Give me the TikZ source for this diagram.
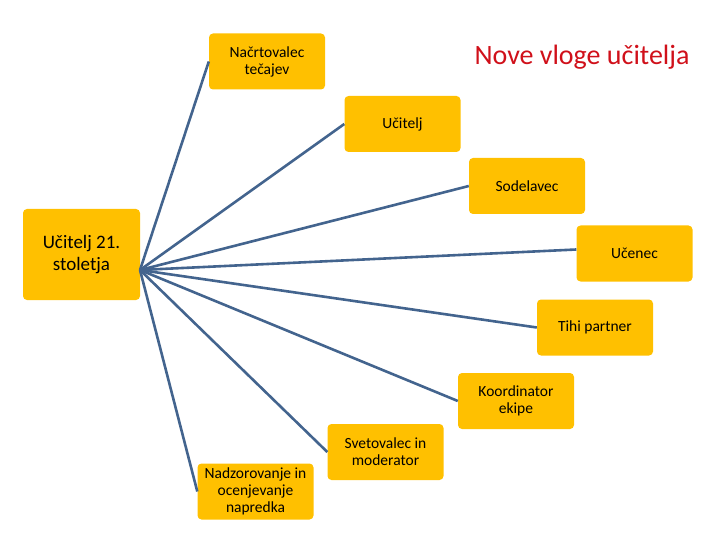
\documentclass[tikz,border=0pt]{standalone}
\usepackage{fontspec}
\setmainfont{Carlito}
\definecolor{boxyellow}{HTML}{FFC000}
\definecolor{linkblue}{HTML}{43648E}
\definecolor{titlered}{HTML}{D0101A}

\begin{document}
\begin{tikzpicture}[x=1pt,y=-1pt,
  role/.style={fill=boxyellow, rounded corners=4pt, minimum width=116pt, minimum height=56pt, align=center, font=\fontsize{15.5}{17}\selectfont, inner sep=2pt},
  link/.style={draw=linkblue, line width=2.6pt}]
\useasboundingbox (0,0) rectangle (720,540);
\node[role, minimum width=117pt, minimum height=91pt, font=\fontsize{19}{22}\selectfont] (hub) at (81.5,254.5) {Učitelj 21.\\stoletja};
\coordinate (c) at (140,270);
\node[anchor=east, text=titlered, font=\fontsize{28}{30}\selectfont] (title) at (693,57) {Nove vloge učitelja};
\node[role] (nacrt) at (267,61.5) {Načrtovalec\\tečajev};
\node[role] (ucitelj) at (402.5,124) {Učitelj};
\node[role] (sodel) at (527,186) {Sodelavec};
\node[role] (ucenec) at (634.5,253.5) {Učenec};
\node[role] (tihi) at (595,327.5) {Tihi partner};
\node[role] (koord) at (516,401) {Koordinator\\ekipe};
\node[role] (svet) at (385.5,452) {Svetovalec in\\moderator};
\node[role] (nadz) at (255.5,491.5) {Nadzorovanje in\\ocenjevanje\\napredka};
\path[link] (c) -- (nacrt.west);
\path[link] (c) -- (ucitelj.west);
\path[link] (c) -- (sodel.west);
\path[link] (c) -- ([yshift=4pt]ucenec.west);
\path[link] (c) -- (tihi.west);
\path[link] (c) -- (koord.west);
\path[link] (c) -- (svet.west);
\path[link] (c) -- (nadz.west);
\end{tikzpicture}
\end{document}
